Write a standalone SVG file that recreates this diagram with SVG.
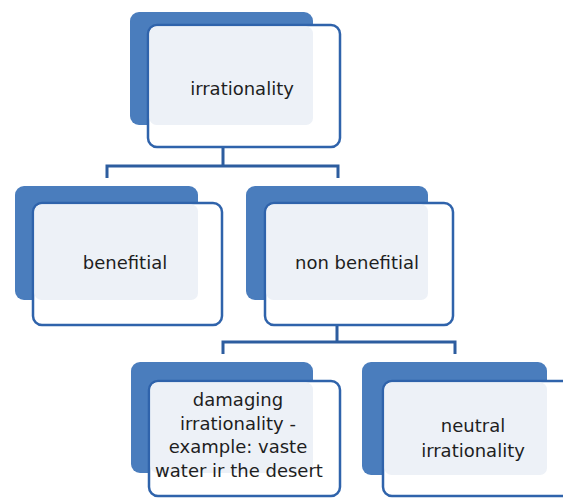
<svg xmlns="http://www.w3.org/2000/svg" width="563" height="498" viewBox="0 0 563 498">
<style>
.back{fill:#4a7dbd}
.front{fill:#ffffff;stroke:#2f63ab;stroke-width:2.5}
.tint{fill:#edf1f7}
.lbl{font-family:"DejaVu Sans",sans-serif;font-size:18px;fill:#1e1e1e;text-anchor:middle}
.conn{fill:none;stroke:#2d5d9f;stroke-width:3}
</style>
<rect width="563" height="498" fill="#ffffff"/>
<g id="connectors">
<path class="conn" d="M223,147 V166 M107,178 V166 H338 V178"/>
<path class="conn" d="M337,325 V342 M223,354 V342 H455 V354"/>
</g>
<g id="node-irrationality">
<rect class="back" x="130" y="12" width="183" height="113" rx="9"/>
<rect class="front" x="148" y="25" width="192" height="122" rx="9"/>
<rect class="tint" x="149.5" y="26.5" width="163.5" height="98.5" rx="7"/>
<text class="lbl" x="242" y="95">irrationality</text>
</g>
<g id="node-benefitial">
<rect class="back" x="15" y="186" width="183" height="114" rx="9"/>
<rect class="front" x="33" y="203" width="189" height="122" rx="9"/>
<rect class="tint" x="34.5" y="204.5" width="163.5" height="95.5" rx="7"/>
<text class="lbl" x="125" y="269">benefitial</text>
</g>
<g id="node-non-benefitial">
<rect class="back" x="246" y="186" width="182" height="114" rx="9"/>
<rect class="front" x="265" y="203" width="188" height="122" rx="9"/>
<rect class="tint" x="266.5" y="204.5" width="161.5" height="95.5" rx="7"/>
<text class="lbl" x="357" y="269">non benefitial</text>
</g>
<g id="node-damaging">
<rect class="back" x="131" y="362" width="182" height="111" rx="9"/>
<rect class="front" x="149" y="381" width="191" height="115" rx="9"/>
<rect class="tint" x="150.5" y="382.5" width="162.5" height="90.5" rx="7"/>
<text class="lbl" x="238" y="406">damaging</text>
<text class="lbl" x="238" y="430">irrationality -</text>
<text class="lbl" x="238" y="453">example: vaste</text>
<text class="lbl" x="239" y="477">water ir the desert</text>
</g>
<g id="node-neutral">
<rect class="back" x="362" y="362" width="185" height="113" rx="9"/>
<rect class="front" x="383" y="381" width="190" height="115" rx="9"/>
<rect class="tint" x="384.5" y="382.5" width="162.5" height="92.5" rx="7"/>
<text class="lbl" x="473" y="432">neutral</text>
<text class="lbl" x="473" y="457">irrationality</text>
</g>
</svg>
